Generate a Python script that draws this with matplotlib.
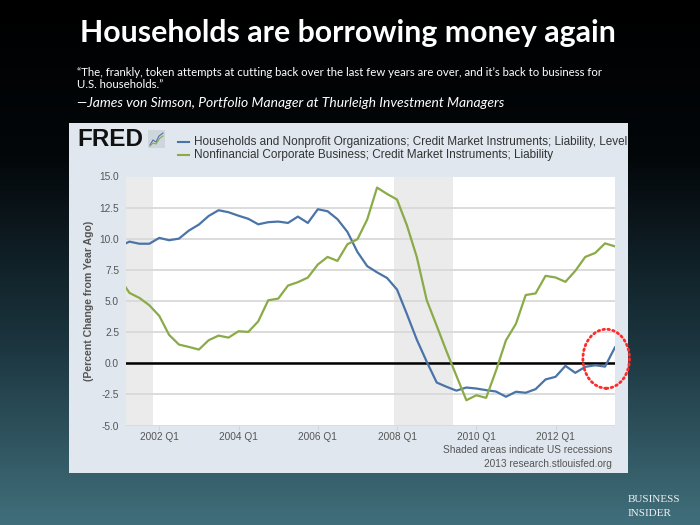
import numpy as np
import pandas as pd
import matplotlib.pyplot as plt
from matplotlib.colors import LinearSegmentedColormap
from matplotlib.patches import Ellipse, Rectangle

# quarterly data, 2001 Q1 .. 2013 Q3 (percent change from year ago)
quarters = pd.date_range("2001-01-01", periods=51, freq="QS")

households = [9.40, 9.77, 9.60, 9.60, 10.07, 9.88, 10.01, 10.66, 11.14, 11.83,
              12.29, 12.13, 11.85, 11.60, 11.16, 11.33, 11.38, 11.27, 11.78, 11.27,
              12.37, 12.21, 11.57, 10.55, 8.94, 7.80, 7.30, 6.85, 5.92, 3.95,
              1.90, 0.12, -1.55, -1.89, -2.20, -1.95, -2.03, -2.16, -2.27, -2.69,
              -2.29, -2.37, -2.08, -1.30, -1.09, -0.21, -0.77, -0.29, -0.16, -0.27,
              1.27]

corporate = [6.80, 5.65, 5.25, 4.66, 3.80, 2.28, 1.50, 1.31, 1.10, 1.85,
             2.22, 2.06, 2.57, 2.52, 3.37, 5.06, 5.19, 6.24, 6.51, 6.88,
             7.93, 8.54, 8.22, 9.56, 9.96, 11.54, 14.11, 13.60, 13.15, 11.08,
             8.54, 5.06, 3.00, 0.96, -1.00, -2.97, -2.57, -2.78, -0.60, 1.84,
             3.17, 5.48, 5.61, 7.02, 6.89, 6.54, 7.42, 8.54, 8.86, 9.63,
             9.39]

recessions = [("2001-03-01", "2001-11-01"), ("2007-12-01", "2009-06-01")]
tick_years = [2002, 2004, 2006, 2008, 2010, 2012]
y_ticks = [-5.0, -2.5, 0.0, 2.5, 5.0, 7.5, 10.0, 12.5, 15.0]

label_hh = "Households and Nonprofit Organizations; Credit Market Instruments; Liability, Level"
label_corp = "Nonfinancial Corporate Business; Credit Market Instruments; Liability"
title = "Households are borrowing money again"
quote1 = "\u201cThe, frankly, token attempts at cutting back over the last few years are over, and it\u2019s back to business for"
quote2 = "U.S. households.\u201d"
source = "\u2014James von Simson, Portfolio Manager at Thurleigh Investment Managers"

blue = "#4a74a8"
green = "#8aab48"
grey_txt = "#555555"

fig = plt.figure(figsize=(7, 5.25), dpi=100)

# background gradient (black to teal)
bg = fig.add_axes([0, 0, 1, 1])
grad = np.linspace(0, 1, 256).reshape(-1, 1)
cmap = LinearSegmentedColormap.from_list("bg", [(0, "#000000"), (0.3, "#03070a"), (0.65, "#1b343e"), (1, "#406f7b")])
bg.imshow(grad, aspect="auto", cmap=cmap, extent=[0, 700, 525, 0])
bg.set_xlim(0, 700)
bg.set_ylim(525, 0)
bg.axis("off")

bg.text(348, 33, title, color="white", fontsize=21.8, fontweight="bold", family="Lato",
        ha="center", va="center")
bg.text(77, 72, quote1, color="white", fontsize=8.2, family="Lato", ha="left", va="center")
bg.text(77, 85, quote2, color="white", fontsize=8.2, family="Lato", ha="left", va="center")
bg.text(77, 103, source, color="white", fontsize=10, family="Lato", style="italic",
        ha="left", va="center")
bg.text(628, 500, "BUSINESS", color="#eef2f3", fontsize=8, family="Liberation Serif",
        ha="left", va="center")
bg.text(628, 513, "INSIDER", color="#eef2f3", fontsize=8, family="Liberation Serif",
        ha="left", va="center")

# FRED panel
panel = fig.add_axes([69 / 700, 1 - 473 / 525, 559 / 700, 350 / 525])
panel.set_facecolor("#e0e7ef")
panel.set_xlim(69, 628)
panel.set_ylim(473, 123)
panel.set_xticks([])
panel.set_yticks([])
for s in panel.spines.values():
    s.set_visible(False)

panel.text(77, 140, "FRED", fontsize=17.5, fontweight="heavy", family="Liberation Sans",
           color="#111111", ha="left", va="center")
panel.add_patch(Rectangle((148, 130), 17, 18, facecolor="#cfd5dc", edgecolor="none"))
panel.plot([150, 153, 156, 159, 163], [145, 140, 142, 136, 133], color=blue, lw=0.8)
panel.plot([150, 153, 156, 160, 163], [146, 143, 144, 138, 136], color=green, lw=0.8)

panel.plot([178, 189], [142, 142], color=blue, lw=1.5)
panel.plot([178, 189], [155, 155], color=green, lw=1.5)
panel.text(194, 142, label_hh, fontsize=8.5, family="Liberation Sans", color="#333333",
           ha="left", va="center", clip_on=True)
panel.text(194, 155, label_corp, fontsize=8.5, family="Liberation Sans", color="#333333",
           ha="left", va="center", clip_on=True)
panel.text(612, 450, "Shaded areas indicate US recessions", fontsize=7.3,
           family="Liberation Sans", color=grey_txt, ha="right", va="center")
panel.text(612, 464, "2013 research.stlouisfed.org", fontsize=7.3,
           family="Liberation Sans", color=grey_txt, ha="right", va="center")

# main chart
ax = fig.add_axes([126 / 700, 1 - 425.5 / 525, 489 / 700, 249 / 525])
ax.set_facecolor("white")
for start, end in recessions:
    ax.axvspan(pd.Timestamp(start), pd.Timestamp(end), color="#ebebeb", lw=0, zorder=0)
for yv in y_ticks:
    ax.axhline(yv, color="#d9d9d9", lw=1.3, zorder=1)
ax.axhline(0, color="black", lw=1.8, zorder=2)

ax.plot(quarters, households, color=blue, lw=1.6, zorder=3)
ax.plot(quarters, corporate, color=green, lw=1.6, zorder=3)

ax.set_xlim(pd.Timestamp("2001-02-28"), pd.Timestamp("2013-07-02"))
ax.set_ylim(-5, 15)
ax.set_yticks(y_ticks)
ax.set_yticklabels([f"{v:.1f}" for v in y_ticks], fontsize=7.3, color=grey_txt,
                   family="Liberation Sans")
ax.tick_params(axis="y", length=0, pad=5)
xt = [pd.Timestamp(f"{y}-01-01") for y in tick_years]
ax.set_xticks(xt)
ax.set_xticklabels([f"{y} Q1" for y in tick_years], fontsize=7.3, color=grey_txt,
                   family="Liberation Sans")
ax.tick_params(axis="x", length=3, width=0.8, color="#cdd5df", pad=1.5)
for s in ax.spines.values():
    s.set_visible(False)
ax.set_ylabel("(Percent Change from Year Ago)", fontsize=7.6, fontweight="bold",
              color=grey_txt, family="Liberation Sans", labelpad=4)

# red dotted circle around the latest household reading
ax.add_patch(Ellipse((pd.Timestamp("2013-04-12"), 0.36), width=430, height=4.74,
                     fill=False, edgecolor="#ff2a2a", lw=2.0, linestyle=(0, (0.6, 1.2)),
                     capstyle="round", clip_on=False, zorder=5))

fig.savefig("out.png", dpi=100)
